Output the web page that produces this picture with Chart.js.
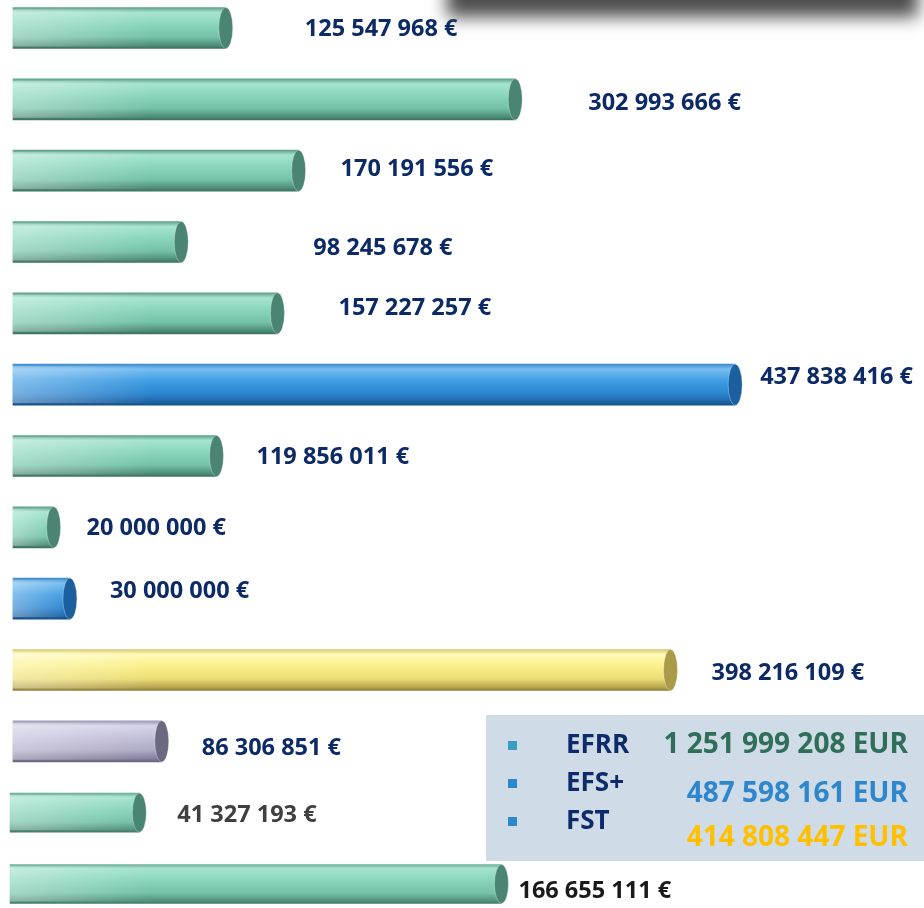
<!DOCTYPE html>
<html>
<head>
<meta charset="utf-8">
<script src="https://cdn.jsdelivr.net/npm/chart.js@4/dist/chart.umd.min.js"></script>
<style>
  html, body { margin: 0; padding: 0; background: #fff; }
  #wrap { width: 924px; height: 908px; position: relative; }
</style>
</head>
<body>
<div id="wrap"><canvas id="bars"></canvas></div>
<script>
"use strict";

// amounts per project, top to bottom
var amounts = [125547968, 302993666, 170191556, 98245678, 157227257, 437838416,
	119856011, 20000000, 30000000, 398216109, 86306851, 41327193, 166655111];
// fund colour of each bar: g = EFRR green, b = EFS+ blue, y = FST yellow, p = other
var fundKeys = ['g', 'g', 'g', 'g', 'g', 'b', 'g', 'g', 'b', 'y', 'p', 'g', 'g'];
// the last two bars in the picture were drawn on a different scale
var scaleGroup = [0, 0, 0, 0, 0, 0, 0, 0, 0, 0, 0, 1, 1];

var legendNames = ['EFRR', 'EFS+', 'FST'];
var legendTotals = [1251999208, 487598161, 414808447];

function fmt(v) {
	return String(v).replace(/\B(?=(\d{3})+(?!\d))/g, ' ');
}

var categories = amounts.map(function(v) { return fmt(v) + ' €'; });

var palette = {
	g: { stops: ['#5f9f8a', '#a6e4cf', '#8ad6bc', '#74c2a8', '#4f8e7a', '#3c7262'], cap: '#4a8473' },
	b: { stops: ['#3f8dcc', '#78bdf0', '#3f9de3', '#2c85d0', '#1d64a6', '#164f86'], cap: '#1b5f9e' },
	y: { stops: ['#d9c970', '#fffab8', '#fbf08c', '#eadc74', '#b9a650', '#8f7f38'], cap: '#ab9a48' },
	p: { stops: ['#9d9ab6', '#d6d4e8', '#c2bfd9', '#ada9c4', '#837f9c', '#67647c'], cap: '#6b6882' }
};
var gradPos = [0, 0.12, 0.4, 0.72, 0.92, 1];

// label nudges (px) relative to the bar end
var labelGap = [72, 66, 35, 125, 54, 18, 33, 26, 33, 34, 33, 31, 10];
var labelDy = [1, 4, -1, 6, -5, -7, 1, 1, -7, 3, 7, 3, 7];
var labelColors = ['#0c2a66', '#0c2a66', '#0c2a66', '#0c2a66', '#0c2a66', '#0c2a66',
	'#0c2a66', '#0c2a66', '#0c2a66', '#0c2a66', '#0c2a66', '#404040', '#1a1a1a'];

var CAP_RX = 7;

function barFill(context) {
	var chart = context.chart;
	var key = fundKeys[context.dataIndex] || 'g';
	if (!chart.chartArea) return palette[key].stops[2];
	var yc = chart.scales.y.getPixelForValue(context.dataIndex);
	var g = chart.ctx.createLinearGradient(0, yc - 20.5, 0, yc + 20.5);
	palette[key].stops.forEach(function(c, i) { g.addColorStop(gradPos[i], c); });
	return g;
}

var cylinderPlugin = {
	id: 'cylinder',
	afterDatasetsDraw: function(chart) {
		var ctx = chart.ctx;
		chart.data.datasets.forEach(function(ds, di) {
			var meta = chart.getDatasetMeta(di);
			meta.data.forEach(function(bar, i) {
				if (ds.data[i] == null) return;
				var p = bar.getProps(['x', 'y', 'base', 'height'], true);
				var top = p.y - p.height / 2;
				var len = p.x - p.base;
				// soft highlight on the left end
				var w = Math.min(140, len);
				var hl = ctx.createLinearGradient(p.base, 0, p.base + w, 0);
				hl.addColorStop(0, 'rgba(255,255,255,0.35)');
				hl.addColorStop(1, 'rgba(255,255,255,0)');
				ctx.save();
				ctx.fillStyle = hl;
				ctx.fillRect(p.base, top + 2, w, p.height - 4);
				// end cap
				ctx.beginPath();
				ctx.ellipse(p.x, p.y, CAP_RX, p.height / 2, 0, 0, Math.PI * 2);
				ctx.fillStyle = palette[fundKeys[i]].cap;
				ctx.fill();
				ctx.lineWidth = 1;
				ctx.strokeStyle = 'rgba(255,255,255,0.3)';
				ctx.stroke();
				ctx.restore();
			});
		});
	}
};

var labelPlugin = {
	id: 'amountLabels',
	afterDatasetsDraw: function(chart) {
		var ctx = chart.ctx;
		ctx.save();
		ctx.font = 'bold 23.5px "Open Sans"';
		ctx.textBaseline = 'middle';
		ctx.textAlign = 'left';
		chart.data.datasets.forEach(function(ds, di) {
			var meta = chart.getDatasetMeta(di);
			meta.data.forEach(function(bar, i) {
				if (ds.data[i] == null) return;
				ctx.fillStyle = labelColors[i];
				ctx.fillText(categories[i], bar.x + CAP_RX + labelGap[i], bar.y + labelDy[i]);
			});
		});
		ctx.restore();
	}
};

var boxPlugin = {
	id: 'fundBox',
	afterDraw: function(chart) {
		var ctx = chart.ctx;
		ctx.save();
		// blurred shadow of the header strip above the picture;
		// the strip itself sits far off-canvas, only its shadow lands here
		ctx.shadowColor = 'rgba(78,78,78,1)';
		ctx.shadowBlur = 16;
		ctx.shadowOffsetY = 5000;
		ctx.fillStyle = '#000';
		ctx.fillRect(447, -6000, 471, 1017);
		ctx.restore();

		ctx.save();
		ctx.fillStyle = '#cfdbe6';
		ctx.fillRect(486, 715, 438, 146);
		var sq = ['#3a9cc0', '#2b88cc', '#2b88cc'];
		var nameY = [746, 784, 822];
		var totY = [745, 794, 838];
		var totCol = ['#2f6e58', '#2e86cc', '#ffc000'];
		ctx.textBaseline = 'middle';
		for (var i = 0; i < legendNames.length; i++) {
			ctx.fillStyle = sq[i];
			ctx.fillRect(508, nameY[i] - 5, 9, 9);
			ctx.font = 'bold 26px "Open Sans"';
			ctx.fillStyle = '#0d2b6b';
			ctx.textAlign = 'left';
			ctx.fillText(legendNames[i], 566, nameY[i]);
			ctx.font = 'bold 28px "Open Sans"';
			ctx.fillStyle = totCol[i];
			ctx.textAlign = 'right';
			ctx.fillText(fmt(legendTotals[i]) + ' EUR', 908, totY[i]);
		}
		ctx.restore();
	}
};

var barCtx = document.getElementById('bars');
new Chart(barCtx, {
	type: 'bar',
	data: {
		labels: categories,
		datasets: [
			{
				data: amounts.map(function(v, i) { return scaleGroup[i] === 0 ? v : null; }),
				xAxisID: 'x',
				backgroundColor: barFill,
				borderWidth: 0,
				barThickness: 41,
				base: -4900000,
				grouped: false,
				clip: false
			},
			{
				data: amounts.map(function(v, i) { return scaleGroup[i] === 1 ? v : null; }),
				xAxisID: 'x2',
				backgroundColor: barFill,
				borderWidth: 0,
				barThickness: 39,
				base: -3400000,
				grouped: false,
				clip: false
			}
		]
	},
	options: {
		indexAxis: 'y',
		responsive: true,
		maintainAspectRatio: false,
		animation: false,
		layout: { padding: { left: 13, right: 0, top: 28, bottom: 24 } },
		scales: {
			y: { type: 'category', offset: false, display: false },
			x: { min: -4900000, max: 553600000, display: false },
			x2: { min: -2400000, max: 312900000, display: false }
		},
		plugins: {
			legend: { display: false },
			tooltip: { enabled: false }
		}
	},
	plugins: [cylinderPlugin, labelPlugin, boxPlugin]
});
</script>
</body>
</html>
